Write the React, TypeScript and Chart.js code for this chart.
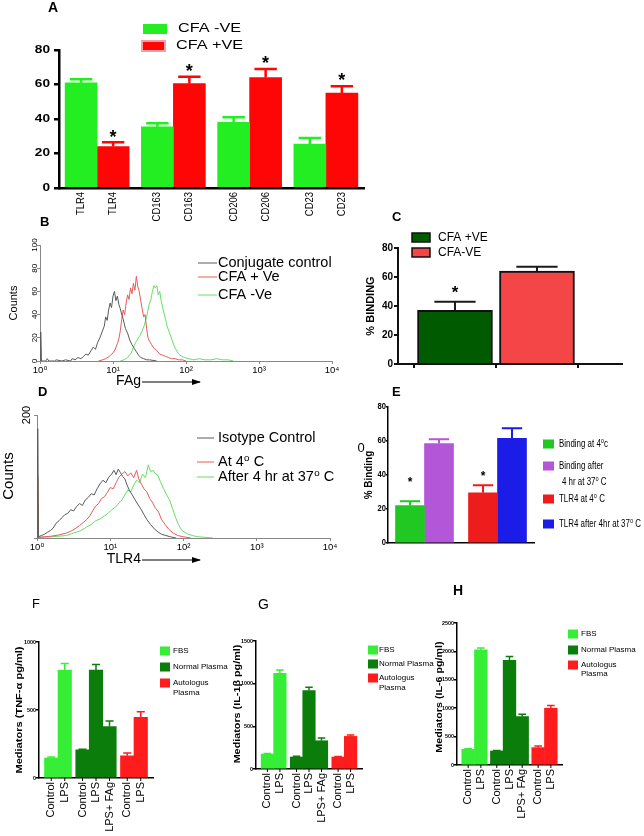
import React, { useEffect, useRef } from 'react';
import { Chart, registerables } from 'chart.js';

Chart.register(...registerables);

const W = 644;
const H = 836;
const FONT = "'Liberation Sans', Arial, 'DejaVu Sans', sans-serif";

// ---------------- Panel A ----------------
const aCategories = ['TLR4', 'CD163', 'CD206', 'CD23'];
const aNegValues = [61, 35.5, 38, 25.5];
const aNegErrors = [2, 2, 3, 3.5];
const aPosValues = [24, 60.5, 64, 55];
const aPosErrors = [2.5, 4, 5, 4];
const aPosStars = [true, true, true, true];

// ---------------- Panel B (x in decades of fluorescence, y = counts) ----------------
const bControlX = [0.005, 0.01, 0.02, 0.08, 0.1, 0.12, 0.2, 0.22, 0.3, 0.35, 0.42, 0.44, 0.48, 0.52, 0.56, 0.6, 0.63, 0.66, 0.7, 0.73, 0.76, 0.79, 0.82, 0.85, 0.88, 0.9, 0.92, 0.94, 0.96, 0.98, 1.0, 1.02, 1.04, 1.06, 1.08, 1.1, 1.12, 1.14, 1.17, 1.2, 1.23, 1.26, 1.29, 1.32, 1.35, 1.38, 1.42, 1.46, 1.5, 1.6];
const bControlY = [0, 25, 0, 0, 2, 0, 0, 1, 0, 1, 0, 2, 1, 3, 2, 4, 6, 5, 9, 12, 10, 16, 20, 25, 30, 38, 35, 44, 50, 46, 56, 60, 52, 56, 49, 45, 40, 36, 28, 24, 18, 14, 11, 8, 5, 3, 2, 1, 1, 0];
const bPosX = [0.8, 0.86, 0.9, 0.95, 1.0, 1.03, 1.06, 1.08, 1.1, 1.12, 1.14, 1.16, 1.18, 1.2, 1.22, 1.24, 1.26, 1.28, 1.3, 1.32, 1.34, 1.36, 1.38, 1.4, 1.42, 1.44, 1.46, 1.48, 1.5, 1.53, 1.56, 1.6, 1.64, 1.68, 1.72, 1.76, 1.8, 1.85, 1.9, 1.95, 2.0];
const bPosY = [0, 1, 2, 4, 7, 10, 15, 19, 26, 36, 44, 40, 50, 57, 53, 63, 58, 67, 61, 73, 64, 60, 52, 45, 38, 40, 28, 20, 17, 14, 11, 9, 6, 5, 4, 3, 2, 2, 1, 1, 0];
const bNegX = [1.1, 1.15, 1.2, 1.25, 1.28, 1.31, 1.34, 1.37, 1.4, 1.43, 1.46, 1.48, 1.5, 1.52, 1.54, 1.56, 1.58, 1.6, 1.62, 1.64, 1.66, 1.68, 1.7, 1.72, 1.74, 1.77, 1.8, 1.83, 1.86, 1.9, 1.94, 1.98, 2.04, 2.1, 2.18, 2.26, 2.34, 2.42, 2.5, 2.58, 2.65];
const bNegY = [0, 1, 3, 7, 12, 16, 19, 22, 26, 31, 38, 44, 50, 53, 60, 65, 63, 65, 57, 60, 52, 46, 41, 36, 30, 25, 20, 14, 10, 6, 4, 3, 2, 1, 2, 1, 1, 2, 1, 1, 0];
const bYTicks = [0, 20, 40, 60, 80, 100];

// ---------------- Panel C ----------------
const cGroups = ['CFA +VE', 'CFA-VE'];
const cValues = [37, 64];
const cErrors = [6, 3];
const cStars = [true, false];

// ---------------- Panel D ----------------
const dIsoX = [0.005, 0.01, 0.02, 0.06, 0.1, 0.14, 0.18, 0.22, 0.26, 0.3, 0.34, 0.38, 0.42, 0.46, 0.5, 0.54, 0.58, 0.62, 0.66, 0.7, 0.74, 0.78, 0.82, 0.86, 0.9, 0.94, 0.98, 1.02, 1.05, 1.08, 1.11, 1.14, 1.17, 1.2, 1.23, 1.26, 1.3, 1.34, 1.38, 1.42, 1.46, 1.5, 1.55, 1.6, 1.65, 1.7, 1.76, 1.82, 1.9];
const dIsoY = [0, 178, 2, 4, 6, 9, 12, 16, 24, 28, 33, 38, 40, 46, 44, 51, 56, 53, 62, 66, 72, 70, 80, 88, 94, 90, 99, 104, 110, 103, 112, 106, 100, 96, 86, 78, 70, 62, 54, 47, 38, 30, 22, 15, 10, 6, 4, 2, 0];
const d4CX = [0.005, 0.01, 0.02, 0.1, 0.2, 0.3, 0.4, 0.46, 0.52, 0.58, 0.63, 0.68, 0.72, 0.76, 0.8, 0.84, 0.88, 0.92, 0.96, 1.0, 1.04, 1.08, 1.12, 1.16, 1.2, 1.24, 1.28, 1.32, 1.36, 1.39, 1.42, 1.46, 1.5, 1.54, 1.58, 1.62, 1.66, 1.7, 1.75, 1.8, 1.86, 1.92, 2.0, 2.1];
const d4CY = [0, 100, 1, 2, 3, 5, 8, 11, 15, 20, 25, 30, 36, 44, 52, 56, 64, 67, 74, 82, 80, 90, 99, 104, 108, 101, 106, 98, 110, 96, 89, 80, 75, 64, 57, 48, 42, 30, 22, 14, 8, 4, 2, 0];
const d37CX = [0.005, 0.01, 0.02, 0.2, 0.4, 0.5, 0.6, 0.68, 0.74, 0.8, 0.86, 0.92, 0.97, 1.02, 1.07, 1.12, 1.16, 1.2, 1.24, 1.28, 1.32, 1.36, 1.4, 1.44, 1.48, 1.52, 1.55, 1.58, 1.62, 1.65, 1.69, 1.73, 1.77, 1.81, 1.85, 1.89, 1.93, 1.98, 2.05, 2.12, 2.2, 2.3, 2.4];
const d37CY = [0, 70, 1, 2, 4, 8, 12, 18, 22, 28, 31, 36, 40, 46, 50, 57, 62, 70, 78, 75, 86, 94, 90, 104, 98, 119, 108, 110, 104, 102, 90, 80, 70, 62, 48, 34, 22, 12, 7, 4, 2, 1, 0];
const dYTickShown = [200];

// ---------------- Panel E ----------------
const eGroups = ['Binding', 'TLR4'];
const e4C = [22, 29.5];
const e4CErr = [2.5, 4.5];
const e4CStars = [true, true];
const e37C = [58.5, 61.5];
const e37CErr = [2.5, 6];

// ---------------- Panels F, G, H ----------------
const mediaGroups = ['FBS', 'Normal Plasma', 'Autologus Plasma'];
const treatments = ['Control', 'LPS', 'LPS+ FAg'];
const fControl = [147, 207, 163];
const fControlErr = [8, 5, 20];
const fLPS = [793, 793, 446];
const fLPSErr = [48, 41, 42];
const fLPSFAg = [null, 378, null];
const fLPSFAgErr = [null, 42, null];
const gControl = [175, 140, 140];
const gControlErr = [8, 8, 6];
const gLPS = [1122, 919, 382];
const gLPSErr = [39, 39, 15];
const gLPSFAg = [null, 331, null];
const gLPSFAgErr = [null, 31, null];
const hControl = [276, 247, 306];
const hControlErr = [10, 10, 29];
const hLPS = [2029, 1841, 1000];
const hLPSErr = [30, 71, 47];
const hLPSFAg = [null, 853, null];
const hLPSFAgErr = [null, 41, null];

// ---------------- colours ----------------
const A_GREEN = '#22ee22';
const A_RED = '#fe0606';
const C_DKGREEN = '#005a00';
const C_RED = '#f44646';
const E_GREEN = '#22c822';
const E_PURPLE = '#b456d8';
const E_RED = '#ee1c1c';
const E_BLUE = '#1c1ce8';
const FBS_C = '#36ee36';
const NP_C = '#0b7d0b';
const AP_C = '#ff1c1c';
const H_GRAY = '#5a5a5a';
const H_RED = '#e85a5a';
const H_GREEN = '#62e062';
const SUP = ['\u2070', '\u00b9', '\u00b2', '\u00b3', '\u2074'];

// ---------------- helpers ----------------
type TextItem = {
  t: string; x: number; y: number; size: number; bold?: boolean; color?: string;
  align?: CanvasTextAlign; baseline?: CanvasTextBaseline; rot?: number; sx?: number;
};

function drawText(ctx: CanvasRenderingContext2D, d: TextItem) {
  ctx.save();
  ctx.translate(d.x, d.y);
  if (d.rot) ctx.rotate((d.rot * Math.PI) / 180);
  if (d.sx && d.sx !== 1) ctx.scale(d.sx, 1);
  ctx.font = `${d.bold ? 'bold ' : ''}${d.size}px ${FONT}`;
  ctx.fillStyle = d.color || '#000';
  ctx.textAlign = d.align || 'left';
  ctx.textBaseline = d.baseline || 'middle';
  ctx.fillText(d.t, 0, 0);
  ctx.restore();
}

const deco = {
  id: 'deco',
  afterDatasetsDraw(chart: any) {
    const o = chart.options.plugins.deco || {};
    const ctx: CanvasRenderingContext2D = chart.ctx;
    const ys = chart.scales.y;
    chart.data.datasets.forEach((ds: any, di: number) => {
      if (!ds.errors) return;
      const meta = chart.getDatasetMeta(di);
      meta.data.forEach((bar: any, i: number) => {
        const raw = ds.data[i];
        const v = raw !== null && typeof raw === 'object' ? raw.y : raw;
        const e = ds.errors[i];
        if (v == null || e == null) return;
        const top = ys.getPixelForValue(v + e);
        const col = o.errColor || bar.options.backgroundColor;
        ctx.save();
        ctx.strokeStyle = col;
        ctx.lineWidth = o.errWidth || 2;
        const hw = (bar.width * (o.capFrac || 0.6)) / 2;
        ctx.beginPath();
        ctx.moveTo(bar.x, bar.y);
        ctx.lineTo(bar.x, top);
        ctx.moveTo(bar.x - hw, top);
        ctx.lineTo(bar.x + hw, top);
        ctx.stroke();
        ctx.restore();
        if (ds.stars && ds.stars[i]) {
          const size = o.starSize || 16;
          const gap = Array.isArray(o.starGap) ? o.starGap[i] : o.starGap || 10;
          drawText(ctx, { t: '*', x: bar.x, y: top - gap + 0.57 * size, size, bold: true, align: 'center', baseline: 'alphabetic' });
        }
      });
    });
  },
  afterDraw(chart: any) {
    const o = chart.options.plugins.deco || {};
    const ctx: CanvasRenderingContext2D = chart.ctx;
    const area = chart.chartArea;
    const yt = o.yTicks;
    if (yt) {
      const s = chart.scales.y;
      s.ticks.forEach((tk: any) => {
        if (yt.only && yt.only.indexOf(tk.value) < 0) return;
        const y = s.getPixelForValue(tk.value);
        if (yt.rot) {
          drawText(ctx, { t: String(tk.value), x: yt.x, y, size: yt.size, bold: yt.bold, sx: yt.sx, rot: -90, align: 'center', baseline: 'middle' });
        } else {
          drawText(ctx, { t: String(tk.value), x: area.left - yt.gap, y, size: yt.size, bold: yt.bold, sx: yt.sx, align: 'right', baseline: 'middle' });
        }
      });
    }
    const bl = o.barLabels;
    if (bl) {
      chart.data.datasets.forEach((ds: any, di: number) => {
        const meta = chart.getDatasetMeta(di);
        meta.data.forEach((bar: any, i: number) => {
          if (ds.data[i] == null) return;
          const text = bl.mode === 'category' ? chart.data.labels[i] : ds.label;
          if (bl.tick) {
            ctx.save();
            ctx.strokeStyle = '#000';
            ctx.lineWidth = 1;
            ctx.beginPath();
            ctx.moveTo(bar.x, area.bottom);
            ctx.lineTo(bar.x, area.bottom + bl.tick);
            ctx.stroke();
            ctx.restore();
          }
          drawText(ctx, { t: text, x: bar.x, y: area.bottom + bl.gap, size: bl.size, sx: bl.sx, rot: -90, align: 'right', baseline: 'middle' });
        });
      });
    }
    (o.boxes || []).forEach((b: any) => {
      ctx.save();
      ctx.fillStyle = b.fill;
      ctx.fillRect(b.x, b.y, b.w, b.h);
      if (b.stroke) {
        ctx.strokeStyle = b.stroke;
        ctx.lineWidth = b.lw || 1;
        ctx.strokeRect(b.x, b.y, b.w, b.h);
      }
      ctx.restore();
    });
    (o.lines || []).forEach((l: any) => {
      ctx.save();
      ctx.strokeStyle = l.color || '#000';
      ctx.lineWidth = l.lw || 1;
      ctx.beginPath();
      ctx.moveTo(l.x1, l.y1);
      ctx.lineTo(l.x2, l.y2);
      ctx.stroke();
      if (l.arrow) {
        ctx.fillStyle = l.color || '#000';
        ctx.beginPath();
        ctx.moveTo(l.x2 + 1, l.y2);
        ctx.lineTo(l.x2 - 8, l.y2 - 3);
        ctx.lineTo(l.x2 - 8, l.y2 + 3);
        ctx.closePath();
        ctx.fill();
      }
      ctx.restore();
    });
    (o.texts || []).forEach((t: TextItem) => drawText(ctx, t));
  },
};

const YW = 30;
const XH = 24;
const fitY = (s: any) => { s.width = YW; };
const fitX = (s: any) => { s.height = XH; };
const frame = (left: number, top: number, right: number, bottom: number) => ({
  left: left - YW, top, right: W - right, bottom: H - bottom - XH,
});

function base(pad: any, decoOpts: any, scales: any) {
  return {
    responsive: false,
    animation: false,
    devicePixelRatio: 1,
    events: [],
    layout: { padding: pad },
    plugins: { legend: { display: false }, tooltip: { enabled: false }, title: { display: false }, deco: decoOpts },
    scales,
  };
}

function yLin(max: number, step: number, color: string, width: number, tl: number) {
  return {
    type: 'linear', min: 0, max, afterFit: fitY,
    ticks: { display: false, stepSize: step },
    grid: { display: true, drawOnChartArea: false, drawTicks: true, tickLength: tl, color, lineWidth: width },
    border: { display: true, color, width },
  };
}

function xCat(width: number) {
  return {
    type: 'category', afterFit: fitX,
    ticks: { display: false },
    grid: { display: false },
    border: { display: true, color: '#000', width },
  };
}

function xDecades(color: string) {
  return {
    type: 'linear', min: 0, max: 4, afterFit: fitX,
    ticks: { stepSize: 1, callback: (v: number) => '10' + SUP[v], font: { size: 9.5, family: FONT }, color: '#000', padding: 1, maxRotation: 0, minRotation: 0 },
    grid: { display: true, drawOnChartArea: false, drawTicks: true, tickLength: 3, color },
    border: { display: true, color, width: 1 },
  };
}

const pts = (xs: number[], ys: number[]) => xs.map((x, i) => ({ x, y: ys[i] }));

function histLine(label: string, xs: number[], ys: number[], color: string) {
  return { label, data: pts(xs, ys), borderColor: color, borderWidth: 1, pointRadius: 0, tension: 0, fill: false };
}

// ---------------- configs ----------------
const makeA = () => ({
  type: 'bar',
  data: {
    labels: aCategories,
    datasets: [
      { label: 'CFA -VE', data: aNegValues, errors: aNegErrors, backgroundColor: A_GREEN, barThickness: 32, borderWidth: 0 },
      { label: 'CFA +VE', data: aPosValues, errors: aPosErrors, stars: aPosStars, backgroundColor: A_RED, barThickness: 32, borderWidth: 0 },
    ],
  },
  options: base(frame(59, 50, 364, 188), {
    errWidth: 2.5, capFrac: 0.7, starSize: 18, starGap: 10,
    yTicks: { size: 10.5, bold: true, sx: 1.3, gap: 9 },
    barLabels: { mode: 'category', size: 10.5, sx: 0.9, gap: 4 },
    boxes: [
      { x: 143, y: 24, w: 24, h: 10, fill: A_GREEN },
      { x: 142, y: 41, w: 23, h: 10, fill: A_RED, stroke: '#f4a0a0', lw: 2 },
    ],
    texts: [
      { t: 'A', x: 48, y: 8, size: 14, bold: true },
      { t: 'CFA -VE', x: 178, y: 29, size: 12, sx: 1.35 },
      { t: 'CFA +VE', x: 176, y: 46, size: 12, sx: 1.35 },
    ],
  }, { x: xCat(2.5), y: yLin(80, 20, '#000', 2.5, 5) }),
});

const makeB = () => ({
  type: 'line',
  data: {
    datasets: [
      histLine('Conjugate control', bControlX, bControlY, H_GRAY),
      histLine('CFA + Ve', bPosX, bPosY, H_RED),
      histLine('CFA -Ve', bNegX, bNegY, H_GREEN),
    ],
  },
  options: base(frame(40, 245, 332, 361), {
    yTicks: { rot: true, x: 35, size: 8 },
    lines: [
      { x1: 198, y1: 263, x2: 217, y2: 263, color: H_GRAY },
      { x1: 198, y1: 277, x2: 217, y2: 277, color: H_RED },
      { x1: 198, y1: 295, x2: 217, y2: 295, color: H_GREEN },
      { x1: 142, y1: 382, x2: 200, y2: 382, color: '#000', arrow: true },
    ],
    texts: [
      { t: 'B', x: 40, y: 222.5, size: 13, bold: true },
      { t: 'Conjugate control', x: 218, y: 263, size: 14.5 },
      { t: 'CFA + Ve', x: 218, y: 277, size: 14.5 },
      { t: 'CFA -Ve', x: 218, y: 295, size: 14.5 },
      { t: 'Counts', x: 14, y: 303, size: 11, rot: -90, align: 'center' },
      { t: 'FAg', x: 141, y: 381.5, size: 14, align: 'right' },
    ],
  }, {
    x: xDecades('#888'),
    y: { ...yLin(100, 20, '#888', 1, 3), ticks: { display: false, stepSize: 20 } },
  }),
});

const makeC = () => ({
  type: 'bar',
  data: {
    datasets: [
      {
        label: '% BINDING',
        data: cValues.map((v, i) => ({ x: i, y: v })),
        errors: cErrors, stars: cStars,
        backgroundColor: [C_DKGREEN, C_RED], borderColor: '#111', borderWidth: 2, barThickness: 75,
      },
    ],
  },
  options: base(frame(398, 248, 622, 364), {
    errWidth: 2, capFrac: 0.55, errColor: '#1a1a1a', starSize: 17, starGap: 13,
    yTicks: { size: 10, bold: true, gap: 5 },
    boxes: [
      { x: 412, y: 233, w: 18, h: 9, fill: C_DKGREEN, stroke: '#111', lw: 1.5 },
      { x: 412, y: 248, w: 18, h: 9, fill: C_RED, stroke: '#111', lw: 1.5 },
    ],
    texts: [
      { t: 'C', x: 392, y: 217.5, size: 13, bold: true },
      { t: cGroups[0], x: 438, y: 237.5, size: 12 },
      { t: cGroups[1], x: 438, y: 252.5, size: 12 },
      { t: '% BINDING', x: 371, y: 306, size: 11, bold: true, rot: -90, align: 'center' },
    ],
  }, {
    x: {
      type: 'linear', min: -0.695, max: 2.037, afterFit: fitX, offset: false,
      afterBuildTicks: (s: any) => { s.ticks = [{ value: 0 }, { value: 1 }]; },
      ticks: { display: false },
      grid: { display: true, drawOnChartArea: false, drawTicks: true, tickLength: 4, color: '#111', lineWidth: 2 },
      border: { display: true, color: '#111', width: 2 },
    },
    y: yLin(80, 20, '#111', 2, 4),
  }),
});

const makeD = () => ({
  type: 'line',
  data: {
    datasets: [
      histLine('Isotype Control', dIsoX, dIsoY, H_GRAY),
      histLine('At 4\u2070 C', d4CX, d4CY, H_RED),
      histLine('After 4 hr at 37\u2070 C', d37CX, d37CY, H_GREEN),
    ],
  },
  options: base(frame(37, 415, 330, 538), {
    yTicks: { rot: true, x: 27, size: 11, only: dYTickShown },
    lines: [
      { x1: 197, y1: 438, x2: 214, y2: 438, color: H_GRAY },
      { x1: 197, y1: 462, x2: 214, y2: 462, color: H_RED },
      { x1: 197, y1: 477, x2: 214, y2: 477, color: H_GREEN },
      { x1: 142, y1: 560, x2: 200, y2: 560, color: '#000', arrow: true },
    ],
    texts: [
      { t: 'D', x: 38, y: 392.5, size: 13, bold: true },
      { t: 'Isotype Control', x: 218, y: 438, size: 14.5 },
      { t: 'At 4\u2070 C', x: 218, y: 462, size: 14.5 },
      { t: 'After 4 hr at 37\u2070 C', x: 218, y: 477, size: 14.5 },
      { t: 'Counts', x: 9, y: 476, size: 15, rot: -90, align: 'center' },
      { t: 'TLR4', x: 141, y: 559, size: 14, align: 'right' },
    ],
  }, {
    x: xDecades('#888'),
    y: { ...yLin(200, 50, '#888', 1, 3), ticks: { display: false, stepSize: 200 } },
  }),
});

const makeE = () => ({
  type: 'bar',
  data: {
    labels: eGroups,
    datasets: [
      { label: 'at 4\u2070 C', data: e4C, errors: e4CErr, stars: e4CStars, backgroundColor: [E_GREEN, E_RED], barThickness: 29, borderWidth: 0 },
      { label: 'after 4 hr at 37\u2070 C', data: e37C, errors: e37CErr, backgroundColor: [E_PURPLE, E_BLUE], barThickness: 29, borderWidth: 0 },
    ],
  },
  options: base(frame(388, 407, 534, 543), {
    errWidth: 2, capFrac: 0.7, starSize: 12, starGap: [22, 12],
    yTicks: { size: 8.5, bold: true, gap: 2, sx: 0.9 },
    boxes: [
      { x: 543, y: 439.5, w: 11, h: 9, fill: E_GREEN },
      { x: 543, y: 461.5, w: 11, h: 9, fill: E_PURPLE },
      { x: 543, y: 494.5, w: 11, h: 9, fill: E_RED },
      { x: 543, y: 519.5, w: 11, h: 9, fill: E_BLUE },
    ],
    texts: [
      { t: 'E', x: 392, y: 392, size: 13, bold: true },
      { t: '0', x: 361, y: 448, size: 13, align: 'center' },
      { t: '% Binding', x: 369, y: 475, size: 11, bold: true, sx: 0.9, rot: -90, align: 'center' },
      { t: 'Binding at 4\u2070c', x: 559, y: 444, size: 11, sx: 0.72 },
      { t: 'Binding after', x: 559, y: 466, size: 11, sx: 0.72 },
      { t: '4 hr at 37\u2070 C', x: 562, y: 482, size: 11, sx: 0.72 },
      { t: 'TLR4 at 4\u2070 C', x: 559, y: 499, size: 11, sx: 0.72 },
      { t: 'TLR4 after 4hr at 37\u2070 C', x: 559, y: 524, size: 11, sx: 0.72 },
    ],
  }, { x: xCat(1.5), y: yLin(80, 20, '#000', 1.5, 2) }),
});

function makeMediator(
  control: any[], controlErr: any[], lps: any[], lpsErr: any[], lpsFag: any[], lpsFagErr: any[],
  rect: number[], max: number, thick: number, extra: any,
) {
  const colors = [FBS_C, NP_C, AP_C];
  const ds = (label: string, data: any[], errors: any[]) => ({
    label, data, errors, backgroundColor: colors, barThickness: thick, borderWidth: 0, skipNull: true,
  });
  return {
    type: 'bar',
    data: {
      labels: mediaGroups,
      datasets: [ds(treatments[0], control, controlErr), ds(treatments[1], lps, lpsErr), ds(treatments[2], lpsFag, lpsFagErr)],
    },
    options: base(frame(rect[0], rect[1], rect[2], rect[3]), {
      errWidth: 1.5, capFrac: 0.6,
      yTicks: { size: 6, bold: true, gap: 3, sx: 0.9 },
      barLabels: { mode: 'dataset', size: 11, gap: 4, tick: 3 },
      ...extra,
    }, { x: xCat(1.5), y: yLin(max, 500, '#000', 1.5, 3) }),
  };
}

function mediatorLegend(bx: number, ys: number[], tx: number) {
  return {
    boxes: [
      { x: bx, y: ys[0] - 4.5, w: 10, h: 9, fill: FBS_C },
      { x: bx, y: ys[1] - 4.5, w: 10, h: 9, fill: NP_C },
      { x: bx, y: ys[2] - 4.5, w: 10, h: 9, fill: AP_C },
    ],
    texts: [
      { t: 'FBS', x: tx, y: ys[0], size: 8 },
      { t: 'Normal Plasma', x: tx, y: ys[1], size: 8 },
      { t: 'Autologus', x: tx, y: ys[2], size: 8 },
      { t: 'Plasma', x: tx, y: ys[3], size: 8 },
    ],
  };
}

const makeF = () => {
  const lg = mediatorLegend(160, [651, 667, 683, 693], 173);
  return makeMediator(fControl, fControlErr, fLPS, fLPSErr, fLPSFAg, fLPSFAgErr, [39, 642, 153, 778], 1000, 13.5, {
    boxes: lg.boxes,
    texts: [
      { t: 'F', x: 32, y: 604.5, size: 13 },
      { t: 'Mediators (TNF-\u03b1 pg/ml)', x: 20, y: 710, size: 8.5, bold: true, sx: 1.3, rot: -90, align: 'center' },
      ...lg.texts,
    ],
  });
};

const makeG = () => {
  const lg = mediatorLegend(368, [650, 664, 678, 688], 379);
  return makeMediator(gControl, gControlErr, gLPS, gLPSErr, gLPSFAg, gLPSFAgErr, [256, 641, 362, 769], 1500, 12.5, {
    boxes: lg.boxes,
    texts: [
      { t: 'G', x: 258, y: 605, size: 14 },
      { t: 'Mediators (IL-1\u03b2 pg/ml)', x: 238, y: 704, size: 8.5, bold: true, sx: 1.27, rot: -90, align: 'center' },
      ...lg.texts,
    ],
  });
};

const makeH = () => {
  const lg = mediatorLegend(568, [634, 650, 665, 674], 581);
  return makeMediator(hControl, hControlErr, hLPS, hLPSErr, hLPSFAg, hLPSFAgErr, [457, 623, 562, 765], 2500, 12.7, {
    boxes: lg.boxes,
    texts: [
      { t: 'H', x: 453, y: 591, size: 14, bold: true },
      { t: 'Mediators (IL-6 pg/ml)', x: 440, y: 697, size: 8.5, bold: true, sx: 1.26, rot: -90, align: 'center' },
      ...lg.texts,
    ],
  });
};

const MAKERS = [makeA, makeB, makeC, makeD, makeE, makeF, makeG, makeH];

function ChartLayer({ make }: { make: () => any }) {
  const ref = useRef<HTMLCanvasElement | null>(null);
  useEffect(() => {
    const cfg = make();
    cfg.plugins = [deco];
    const chart = new Chart(ref.current as HTMLCanvasElement, cfg);
    return () => chart.destroy();
  }, [make]);
  return (
    <canvas
      ref={ref}
      width={W}
      height={H}
      style={{ position: 'absolute', left: 0, top: 0, width: W, height: H }}
    />
  );
}

export default function App() {
  useEffect(() => {
    document.body.style.margin = '0';
    document.body.style.background = '#fff';
  }, []);
  return (
    <div style={{ position: 'relative', width: W, height: H, background: '#fff', overflow: 'hidden' }}>
      <style>{'body{margin:0;background:#fff;}'}</style>
      {MAKERS.map((m, i) => (
        <ChartLayer key={i} make={m} />
      ))}
    </div>
  );
}
